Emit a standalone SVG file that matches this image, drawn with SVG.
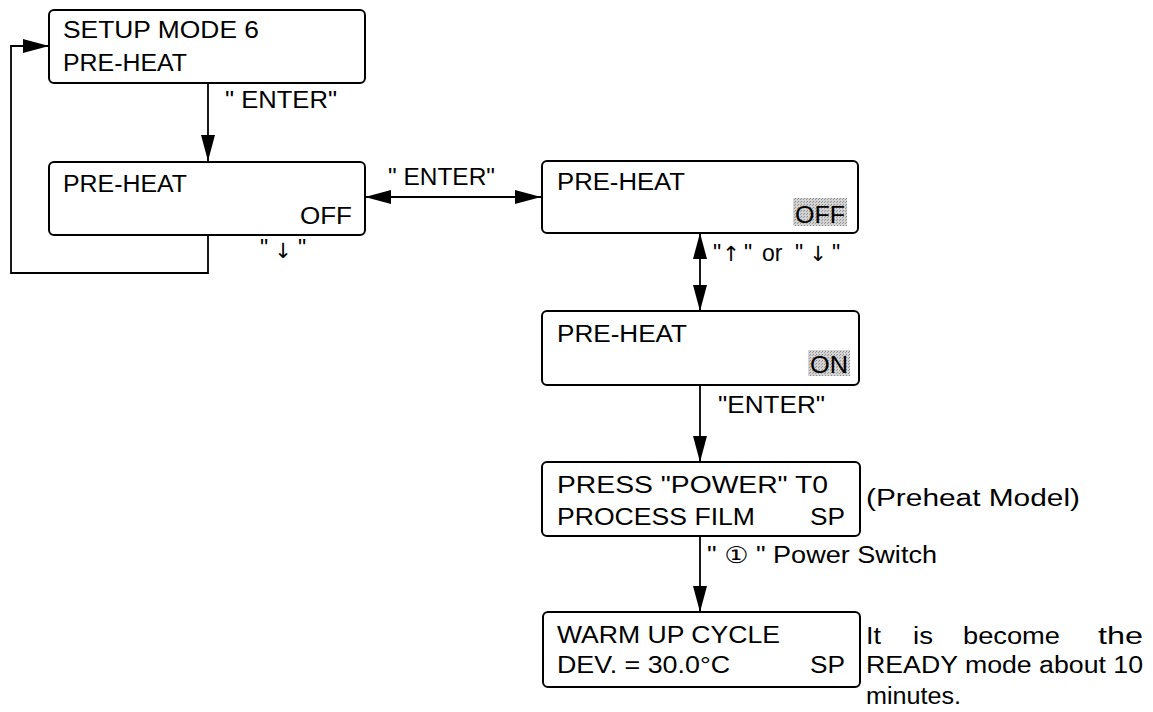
<svg xmlns="http://www.w3.org/2000/svg" width="1153" height="712" viewBox="0 0 1153 712">
<style>
.box{fill:#fff;stroke:#000;stroke-width:2}
.t{font-family:"Liberation Sans","DejaVu Sans","Noto Sans CJK JP",sans-serif;font-size:23px;fill:#000}
.ar{font-family:"DejaVu Sans",sans-serif;font-size:21px;fill:#000}
.ln{fill:none;stroke:#000;stroke-width:1.8}
</style>
<defs>
<marker id="ah" markerUnits="userSpaceOnUse" markerWidth="26" markerHeight="14" refX="26" refY="7" orient="auto-start-reverse">
<path d="M0,0 L26,7 L0,14 z" fill="#000"/>
</marker>
<pattern id="dots" width="3" height="3" patternUnits="userSpaceOnUse">
<rect width="3" height="3" fill="#d4d4d4"/>
<rect width="1" height="1" fill="#888"/>
<rect x="2" y="1" width="1" height="1" fill="#999"/>
</pattern>
</defs>
<rect width="1153" height="712" fill="#fff"/>
<g id="connectors">
<line class="ln" x1="208" y1="83" x2="208" y2="161" marker-end="url(#ah)"/>
<line class="ln" x1="365" y1="197" x2="541" y2="197" marker-start="url(#ah)" marker-end="url(#ah)"/>
<polyline class="ln" points="208,235 208,273 11,273 11,46 49,46" marker-end="url(#ah)"/>
<line class="ln" x1="700" y1="233" x2="700" y2="311" marker-start="url(#ah)" marker-end="url(#ah)"/>
<line class="ln" x1="700" y1="385" x2="700" y2="462" marker-end="url(#ah)"/>
<line class="ln" x1="700" y1="536" x2="700" y2="612" marker-end="url(#ah)"/>
<text class="t" x="225" y="108" textLength="112" lengthAdjust="spacingAndGlyphs">" ENTER"</text>
<text class="t" x="388" y="185" textLength="107" lengthAdjust="spacingAndGlyphs">" ENTER"</text>
<text class="t" x="260" y="256">"</text>
<text class="ar" x="283" y="258" text-anchor="middle">↓︎</text>
<text class="t" x="298" y="256">"</text>
<text class="t" x="713" y="261">"</text>
<text class="ar" x="731" y="261" text-anchor="middle">↑︎</text>
<text class="t" x="744" y="261">"</text>
<text class="t" x="762" y="261">or</text>
<text class="t" x="795" y="261">"</text>
<text class="ar" x="818" y="261" text-anchor="middle">↓︎</text>
<text class="t" x="832" y="261">"</text>
<text class="t" x="718" y="413" textLength="107" lengthAdjust="spacingAndGlyphs">"ENTER"</text>
<text class="t" x="707" y="563" textLength="230" lengthAdjust="spacingAndGlyphs">" ① " Power Switch</text>
</g>
<g id="node-setup">
<rect class="box" x="49" y="10" width="316" height="73" rx="5"/>
<text class="t" x="63" y="38" textLength="196" lengthAdjust="spacingAndGlyphs">SETUP MODE 6</text>
<text class="t" x="63" y="71" textLength="124" lengthAdjust="spacingAndGlyphs">PRE-HEAT</text>
</g>
<g id="node-preheat-off">
<rect class="box" x="49" y="162" width="316" height="73" rx="5"/>
<text class="t" x="63" y="192" textLength="124" lengthAdjust="spacingAndGlyphs">PRE-HEAT</text>
<text class="t" x="300" y="224" textLength="52" lengthAdjust="spacingAndGlyphs">OFF</text>
</g>
<g id="node-preheat-off-sel">
<rect class="box" x="542" y="161" width="316" height="72" rx="5"/>
<text class="t" x="557" y="190" textLength="128" lengthAdjust="spacingAndGlyphs">PRE-HEAT</text>
<rect x="793" y="198" width="54" height="28" fill="url(#dots)"/>
<text class="t" x="795" y="223" textLength="50" lengthAdjust="spacingAndGlyphs">OFF</text>
</g>
<g id="node-preheat-on">
<rect class="box" x="542" y="311" width="317" height="74" rx="5"/>
<text class="t" x="557" y="342" textLength="130" lengthAdjust="spacingAndGlyphs">PRE-HEAT</text>
<rect x="808" y="350" width="42" height="26" fill="url(#dots)"/>
<text class="t" x="810" y="373" textLength="38" lengthAdjust="spacingAndGlyphs">ON</text>
</g>
<g id="node-press-power">
<rect class="box" x="542" y="462" width="318" height="74" rx="5"/>
<text class="t" x="557" y="493" textLength="271" lengthAdjust="spacingAndGlyphs">PRESS  "POWER"  T0</text>
<text class="t" x="557" y="525" textLength="198" lengthAdjust="spacingAndGlyphs">PROCESS FILM</text>
<text class="t" x="810" y="525" textLength="35" lengthAdjust="spacingAndGlyphs">SP</text>
<text class="t" x="866" y="506" textLength="214" lengthAdjust="spacingAndGlyphs">(Preheat Model)</text>
</g>
<g id="node-warm-up">
<rect class="box" x="543" y="612" width="317" height="75" rx="5"/>
<text class="t" x="557" y="643" textLength="223" lengthAdjust="spacingAndGlyphs">WARM UP CYCLE</text>
<text class="t" x="557" y="673" textLength="173" lengthAdjust="spacingAndGlyphs">DEV. = 30.0°C</text>
<text class="t" x="810" y="673" textLength="35" lengthAdjust="spacingAndGlyphs">SP</text>
<text class="t" x="866" y="644" textLength="15" lengthAdjust="spacingAndGlyphs">It</text>
<text class="t" x="913" y="644" textLength="20" lengthAdjust="spacingAndGlyphs">is</text>
<text class="t" x="963" y="644" textLength="97" lengthAdjust="spacingAndGlyphs">become</text>
<text class="t" x="1098" y="644" textLength="45" lengthAdjust="spacingAndGlyphs">the</text>
<text class="t" x="866" y="673" textLength="277" lengthAdjust="spacingAndGlyphs">READY mode about 10</text>
<text class="t" x="866" y="704" textLength="95" lengthAdjust="spacingAndGlyphs">minutes.</text>
</g>
</svg>
